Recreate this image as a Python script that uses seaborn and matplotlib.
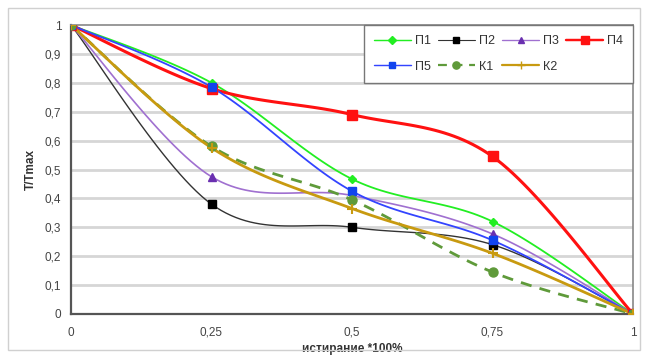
import numpy as np
import pandas as pd
import matplotlib
matplotlib.use("Agg")
import matplotlib.pyplot as plt
import seaborn as sns
from matplotlib.patches import Rectangle
from matplotlib.lines import Line2D

x_vals = [0, 0.25, 0.5, 0.75, 1]
p1 = [1, 0.80, 0.467, 0.32, 0]
p2 = [1, 0.38, 0.30, 0.24, 0]
p3 = [1, 0.475, 0.41, 0.277, 0]
p4 = [1, 0.78, 0.69, 0.545, 0]
p5 = [1, 0.785, 0.425, 0.255, 0]
k1 = [1, 0.58, 0.395, 0.145, 0]
k2 = [1, 0.575, 0.365, 0.21, 0]
x_ticks = [0, 0.25, 0.5, 0.75, 1]
x_tick_labels = ["0", "0,25", "0,5", "0,75", "1"]
y_ticks = [0, 0.1, 0.2, 0.3, 0.4, 0.5, 0.6, 0.7, 0.8, 0.9, 1]
y_tick_labels = ["0", "0,1", "0,2", "0,3", "0,4", "0,5", "0,6", "0,7", "0,8", "0,9", "1"]

series = [
    ("П1", p1, dict(color="#22ee22", lw=1.3, ls="-", marker="D", ms=4.5, mfc="#22ee22", mec="#22ee22")),
    ("П2", p2, dict(color="#333333", lw=1.0, ls="-", marker="s", ms=6, mfc="black", mec="black")),
    ("П3", p3, dict(color="#a070d0", lw=1.2, ls="-", marker="^", ms=6, mfc="#6a30b0", mec="#6a30b0")),
    ("П4", p4, dict(color="#ff1111", lw=2.2, ls="-", marker="s", ms=7, mfc="#ff1111", mec="#ff1111")),
    ("П5", p5, dict(color="#3344ff", lw=1.3, ls="-", marker="s", ms=5.5, mfc="#1144ee", mec="#1144ee")),
    ("К1", k1, dict(color="#5f9a3a", lw=2.0, ls=(0, (4, 3)), marker="o", ms=6.5, mfc="#5f9a3a", mec="#5f9a3a")),
    ("К2", k2, dict(color="#c89a10", lw=2.0, ls="-", marker="+", ms=7, mfc="#c89a10", mec="#c89a10")),
]


def smooth(xs, ys, n=30):
    # Excel-style smoothed line (cubic Bezier, Catmull-Rom tangents)
    P = np.column_stack([xs, ys]).astype(float)
    Pe = np.vstack([P[0], P, P[-1]])
    out = []
    t = np.linspace(0, 1, n)[:, None]
    for i in range(len(P) - 1):
        p0, p1_, p2_, p3_ = Pe[i], Pe[i + 1], Pe[i + 2], Pe[i + 3]
        c1 = p1_ + (p2_ - p0) / 6
        c2 = p2_ - (p3_ - p1_) / 6
        seg = ((1 - t) ** 3) * p1_ + 3 * ((1 - t) ** 2) * t * c1 + 3 * (1 - t) * t ** 2 * c2 + t ** 3 * p2_
        out.append(seg if i == 0 else seg[1:])
    S = np.vstack(out)
    return S[:, 0], S[:, 1]


sns.set_style("white")
plt.rcParams["font.family"] = ["Liberation Sans", "DejaVu Sans"]

fig = plt.figure(figsize=(6.45, 3.56), dpi=100)
ax = fig.add_axes([71 / 645, 1 - 314 / 356, (633 - 71) / 645, (314 - 25) / 356])

fig.patches.append(Rectangle((8 / 645, 1 - 350 / 356), 632 / 645, 342 / 356,
                             transform=fig.transFigure, fill=False, ec="#d0d0d0", lw=1.0))

for yt in y_ticks[1:-1]:
    ax.axhline(yt, color="#d6d6d6", lw=2.0, zorder=0)

handles = []
for name, vals, st in series:
    sx, sy = smooth(x_vals, vals)
    df = pd.DataFrame({"x": sx, "y": sy})
    sns.lineplot(data=df, x="x", y="y", ax=ax, color=st["color"], lw=st["lw"],
                 linestyle=st["ls"], sort=False, estimator=None, zorder=3)
    ax.plot(x_vals, vals, linestyle="none", marker=st["marker"], ms=st["ms"],
            mfc=st["mfc"], mec=st["mec"], mew=1.5 if st["marker"] == "+" else 1.0, zorder=4)
    handles.append(Line2D([], [], color=st["color"], lw=st["lw"] * 0.8, ls=st["ls"],
                          marker=st["marker"], ms=st["ms"] * 0.8, mfc=st["mfc"], mec=st["mec"]))

ax.set_xlim(0, 1)
ax.set_ylim(0, 1)
ax.set_xticks(x_ticks)
ax.set_xticklabels(x_tick_labels)
ax.set_yticks(y_ticks)
ax.set_yticklabels(y_tick_labels)
ax.tick_params(axis="both", labelsize=8.5, colors="#444444", length=4, width=1, direction="out", pad=3)
ax.tick_params(axis="x", pad=5)
for s in ["left", "bottom"]:
    ax.spines[s].set_color("#555555")
    ax.spines[s].set_linewidth(1.6)
for s in ["top", "right"]:
    ax.spines[s].set_color("#888888")
    ax.spines[s].set_linewidth(1.2)

ax.set_xlabel("истирание *100%", fontsize=8.5, fontweight="bold", color="#333333", labelpad=3)
ax.set_ylabel("T/Tmax", fontsize=8.5, fontweight="bold", color="#333333", labelpad=6)

# row-major legend order for a 2x4 grid (matplotlib fills columns first)
order = [0, 4, 1, 5, 2, 6, 3]
leg = ax.legend([handles[i] for i in order], [series[i][0] for i in order], ncol=4,
                loc="upper right", bbox_to_anchor=(1.0, 1.0), borderaxespad=0.0,
                frameon=True, fancybox=False,
                fontsize=9, handlelength=3.0, handletextpad=0.3, columnspacing=0.55,
                borderpad=0.8, labelspacing=1.1)
leg.get_frame().set_edgecolor("#777777")
leg.get_frame().set_linewidth(1.0)
leg.get_frame().set_facecolor("white")
leg.get_frame().set_alpha(1)
for t in leg.get_texts():
    t.set_color("#333333")

fig.savefig("out.png", dpi=100)
